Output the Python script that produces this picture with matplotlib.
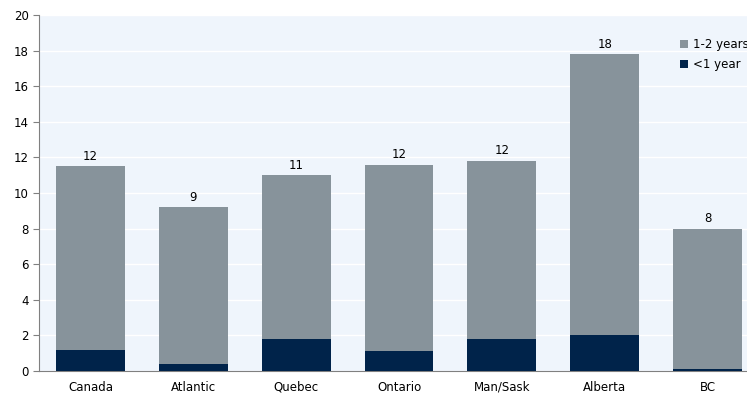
#Stacked bars: duration categories by region
import matplotlib.pyplot as plt
import numpy as np

regions = ['Canada', 'Atlantic', 'Quebec', 'Ontario', 'Man/Sask', 'Alberta', 'BC']
under1 = [1.2, 0.4, 1.8, 1.1, 1.8, 2.0, 0.1]
total = [11.5, 9.2, 11.0, 11.6, 11.8, 17.8, 8.0]
labels = ['12', '9', '11', '12', '12', '18', '8']
oneToTwo = [t - u for t, u in zip(total, under1)]

navy = '#00234A'
grey = '#87939B'

fig = plt.figure(figsize=(7.47, 3.96), dpi=100)
ax = fig.add_axes([39/747, 25/396, 720/747, 356/396])
ax.set_facecolor('#EFF5FC')

x = np.arange(len(regions))
ax.bar(x, under1, width=0.67, color=navy, label='<1 year', zorder=3)
ax.bar(x, oneToTwo, width=0.67, bottom=under1, color=grey, label='1-2 years', zorder=3)

for xi, t, lab in zip(x, total, labels):
    ax.text(xi, t + 0.2, lab, ha='center', va='bottom', fontsize=8.5)

ax.set_xlim(-0.5, 6.5)
ax.set_ylim(0, 20)
ax.set_yticks(np.arange(0, 21, 2))
ax.set_xticks(x)
ax.set_xticklabels(regions)
ax.tick_params(axis='x', length=0, pad=7, labelsize=8.5)
ax.tick_params(axis='y', length=4, color='#808080', labelsize=8.5)
ax.grid(axis='y', color='white', linewidth=1, zorder=1)
for s in ['top', 'right']:
    ax.spines[s].set_visible(False)
for s in ['left', 'bottom']:
    ax.spines[s].set_color('#808080')

h, l = ax.get_legend_handles_labels()
ax.legend(h[::-1], l[::-1], loc='upper left', bbox_to_anchor=(0.875, 0.965),
          frameon=False, fontsize=8.5, handlelength=0.7, handleheight=0.7,
          handletextpad=0.4, labelspacing=0.6)

plt.savefig('out.png', dpi=100)
